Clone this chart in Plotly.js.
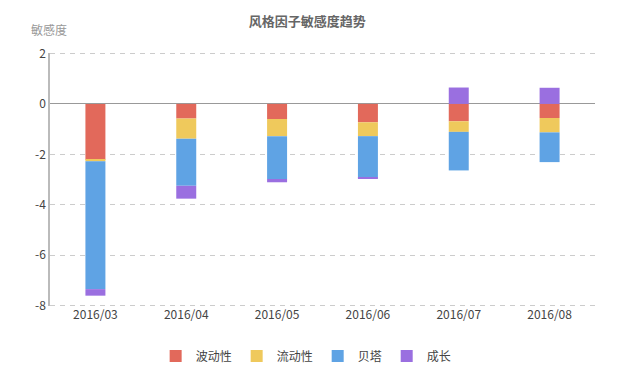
<!DOCTYPE html>
<html>
<head>
<meta charset="utf-8">
<script src="https://cdn.plot.ly/plotly-3.0.1.min.js"></script>
<style>html,body{margin:0;padding:0;background:#fff;}#chart{width:627px;height:391px;}</style>
</head>
<body>
<div id="chart"></div>
<script>
const categories = ['2016/03', '2016/04', '2016/05', '2016/06', '2016/07', '2016/08'];
const volatility = [-2.22, -0.58, -0.60, -0.73, -0.69, -0.56];
const liquidity  = [-0.06, -0.80, -0.68, -0.55, -0.42, -0.57];
const beta       = [-5.07, -1.87, -1.70, -1.65, -1.53, -1.18];
const growth     = [-0.26, -0.51, -0.13, -0.04, 0.65, 0.64];
const seriesNames = ['波动性', '流动性', '贝塔', '成长'];
const seriesColors = ['#e2695b', '#efc95c', '#5fa3e4', '#9a6fe0'];
const yTicks = [2, 0, -2, -4, -6, -8];
const yMin = -8, yMax = 2;

const allSeries = [volatility, liquidity, beta, growth];
const traces = allSeries.map((vals, i) => ({
  type: 'bar',
  x: categories,
  y: vals,
  name: seriesNames[i],
  marker: {color: seriesColors[i], line: {width: 0}},
  hoverinfo: 'x+y+name'
}));

const edgeGrid = [yMin, yMax].map(v => ({
  type: 'line', xref: 'paper', yref: 'y', x0: 0, x1: 1, y0: v, y1: v,
  line: {color: '#cccccc', width: 1, dash: '5px,5px'}, layer: 'below'
}));

const layout = {
  width: 627, height: 391,
  margin: {l: 50, r: 32, t: 53, b: 85},
  paper_bgcolor: '#fff', plot_bgcolor: '#fff',
  barmode: 'relative',
  bargap: 0.78,
  font: {family: '"Noto Sans CJK SC", "Open Sans", sans-serif', size: 12, color: '#333'},
  title: {text: '<b>风格因子敏感度趋势</b>', x: 0.49, xanchor: 'center', y: 0.945, yanchor: 'middle',
          font: {size: 13, color: '#666'}},
  xaxis: {
    type: 'category',
    showgrid: false, showline: false, zeroline: false,
    ticks: '', tickfont: {size: 12, color: '#444'},
    fixedrange: true
  },
  yaxis: {
    range: [yMin - 0.02, yMax + 0.02],
    tickvals: yTicks, ticktext: yTicks.map(String),
    showgrid: true, gridcolor: '#cccccc', griddash: '5px,5px', gridwidth: 1,
    zeroline: true, zerolinecolor: '#999', zerolinewidth: 1,
    showline: true, linecolor: '#bbb', linewidth: 1.5,
    ticks: '', tickfont: {size: 12, color: '#444'},
    fixedrange: true
  },
  shapes: edgeGrid,
  legend: {
    orientation: 'h', x: 0.47, xanchor: 'center', y: -0.14, yanchor: 'top',
    font: {size: 12, color: '#444'}, traceorder: 'normal', itemwidth: 30
  },
  annotations: [{
    text: '敏感度', xref: 'paper', yref: 'paper', x: -0.038, y: 1.05,
    xanchor: 'left', yanchor: 'bottom', showarrow: false,
    font: {size: 12, color: '#999'}
  }]
};

Plotly.newPlot('chart', traces, layout, {displayModeBar: false, responsive: false});
</script>
</body>
</html>
